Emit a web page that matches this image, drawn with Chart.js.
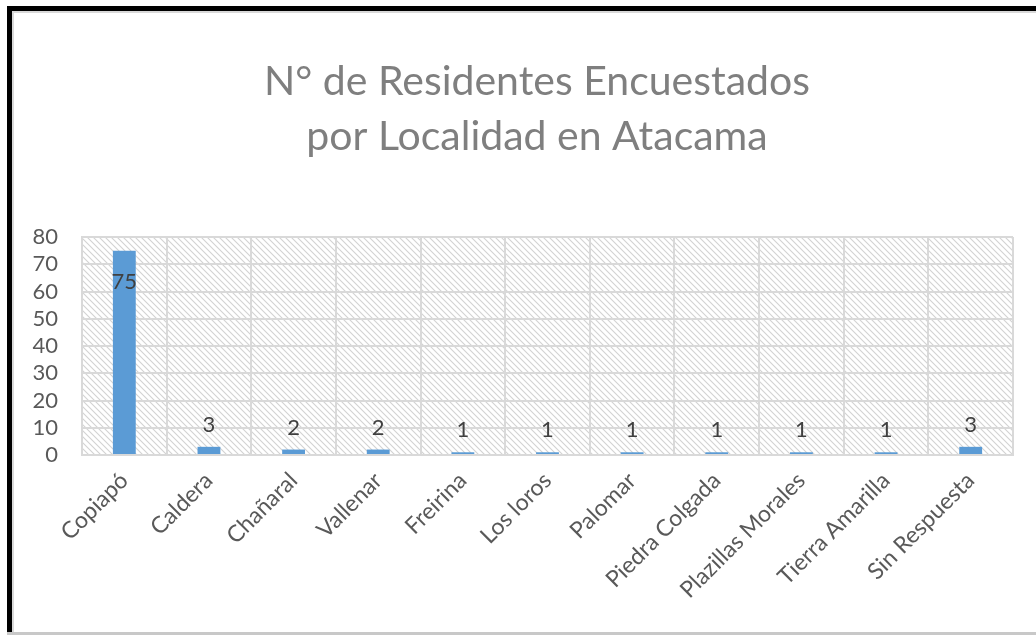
<!DOCTYPE html>
<html>
<head>
<meta charset="utf-8">
<script src="https://cdn.jsdelivr.net/npm/chart.js@4"></script>
<style>
  html, body { margin: 0; padding: 0; background: #fff; }
  #wrap { position: relative; width: 1036px; height: 637px; overflow: hidden; }
  #grafico { position: absolute; left: 0; top: 0; }
  .marco { position: absolute; pointer-events: none; }
</style>
</head>
<body>
<div id="wrap">
  <canvas id="grafico" width="1036" height="637"></canvas>
  <div class="marco" style="left:7px;top:6px;width:1029px;height:627px;border-left:5px solid #000;border-top:5px solid #000;box-sizing:border-box;"></div>
  <div class="marco" style="left:12px;top:11px;width:1024px;height:622px;border-left:2px solid #d9d9d9;border-top:2px solid #d9d9d9;box-sizing:border-box;"></div>
  <div class="marco" style="left:7px;top:632px;width:1029px;height:3px;background:#c8c8c8;"></div>
</div>
<script>
(function () {
  const localidades = ['Copiapó', 'Caldera', 'Chañaral', 'Vallenar', 'Freirina', 'Los loros',
                       'Palomar', 'Piedra Colgada', 'Plazillas Morales', 'Tierra Amarilla', 'Sin Respuesta'];
  const residentes = [75, 3, 2, 2, 1, 1, 1, 1, 1, 1, 3];
  const titulo = ['N° de Residentes Encuestados', 'por Localidad en Atacama'];

  const ctx = document.getElementById('grafico');

  // trama diagonal del fondo del area de trazado
  const trama = document.createElement('canvas');
  trama.width = 6;
  trama.height = 6;
  const t = trama.getContext('2d');
  t.fillStyle = '#ffffff';
  t.fillRect(0, 0, 6, 6);
  t.strokeStyle = '#d2d2d2';
  t.lineWidth = 1.1;
  t.beginPath();
  t.moveTo(-1, -1); t.lineTo(7, 7);
  t.moveTo(-7, -1); t.lineTo(1, 7);
  t.moveTo(5, -1); t.lineTo(13, 7);
  t.stroke();

  const fondo = {
    id: 'fondo',
    beforeDraw(chart) {
      const c = chart.ctx;
      const a = chart.chartArea;
      c.save();
      c.fillStyle = '#ffffff';
      c.fillRect(0, 0, chart.width, chart.height);
      c.fillStyle = c.createPattern(trama, 'repeat');
      c.fillRect(a.left, a.top, a.right - a.left, a.bottom - a.top);
      c.restore();
    }
  };

  // el titulo de Excel va centrado en todo el marco, que sigue mas alla del recorte
  const tituloPlugin = {
    id: 'tituloCentrado',
    afterDraw(chart) {
      const c = chart.ctx;
      c.save();
      c.font = '41px Lato';
      c.fillStyle = '#7f7f7f';
      c.textAlign = 'center';
      c.textBaseline = 'middle';
      c.fillText(titulo[0], 537, 82);
      c.fillText(titulo[1], 537, 137);
      c.restore();
    }
  };

  const etiquetas = {
    id: 'etiquetas',
    afterDatasetsDraw(chart) {
      const c = chart.ctx;
      const meta = chart.getDatasetMeta(0);
      c.save();
      c.font = '22px Lato';
      c.fillStyle = '#404040';
      c.textAlign = 'center';
      c.textBaseline = 'middle';
      meta.data.forEach(function (bar, i) {
        let y = bar.y - 22;
        if (y - 12 < chart.chartArea.top) y = bar.y + 31;
        c.fillText(String(residentes[i]), bar.x, y);
      });
      c.restore();
    }
  };

  new Chart(ctx, {
    type: 'bar',
    data: {
      labels: localidades,
      datasets: [{
        data: residentes,
        backgroundColor: '#5b9bd5',
        barPercentage: 0.27,
        categoryPercentage: 1
      }]
    },
    options: {
      responsive: false,
      animation: false,
      layout: { padding: { left: 20, right: 23, top: 237, bottom: 10 } },
      plugins: {
        legend: { display: false },
        tooltip: { enabled: false },
        title: { display: false }
      },
      scales: {
        x: {
          grid: { color: '#d9d9d9', lineWidth: 2, offset: true, drawTicks: false, tickLength: 0 },
          border: { color: '#d9d9d9', width: 2 },
          ticks: {
            color: '#595959',
            font: { family: 'Lato', size: 23 },
            minRotation: 45,
            maxRotation: 45,
            padding: 12
          },
          afterFit(scale) { scale.height = 637 - 455 - 10; }
        },
        y: {
          min: 0,
          max: 80,
          grid: { color: '#d9d9d9', lineWidth: 2, drawTicks: false, tickLength: 0 },
          border: { color: '#d9d9d9', width: 2 },
          ticks: {
            stepSize: 10,
            autoSkip: false,
            color: '#595959',
            font: { family: 'Lato', size: 22 },
            padding: 24
          },
          afterFit(scale) { scale.width = 62; }
        }
      }
    },
    plugins: [fondo, etiquetas, tituloPlugin]
  });
})();
</script>
</body>
</html>
